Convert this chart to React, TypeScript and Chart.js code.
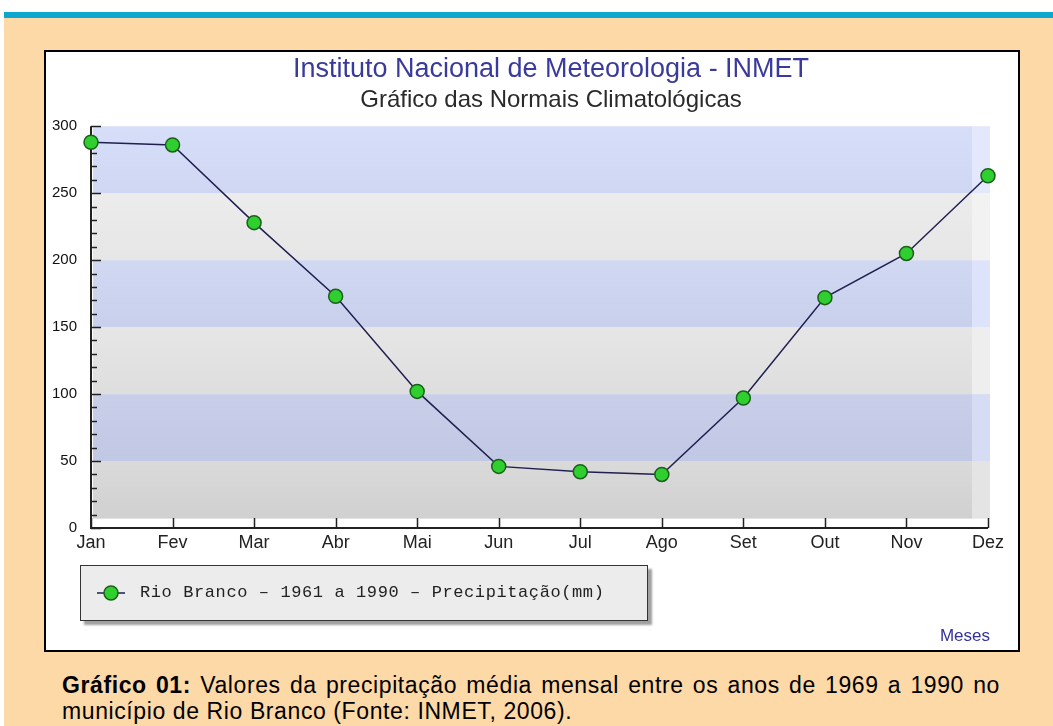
import React, { useEffect, useRef } from "react";
import { Chart, registerables } from "chart.js";

Chart.register(...registerables);

const MONTHS = ["Jan", "Fev", "Mar", "Abr", "Mai", "Jun", "Jul", "Ago", "Set", "Out", "Nov", "Dez"];
const PRECIP = [288, 286, 228, 173, 102, 46, 42, 40, 97, 172, 205, 263];
const Y_MIN = 0;
const Y_MAX = 300;
const Y_STEP = 50;
const Y_MINOR_STEP = 10;
const TITLE = "Instituto Nacional de Meteorologia - INMET";
const SUBTITLE = "Gráfico das Normais Climatológicas";
const SERIES_LABEL = "Rio Branco – 1961 a 1990 – Precipitação(mm)";
const X_AXIS_LABEL = "Meses";
const CAPTION_BOLD = "Gráfico 01:";
const CAPTION_TEXT =
  " Valores da precipitação média mensal entre os anos de 1969 a 1990 no município de Rio Branco (Fonte: INMET, 2006).";

const SANS = '"Liberation Sans", Arial, Helvetica, sans-serif';

const bandsPlugin = {
  id: "bands",
  beforeDatasetsDraw(chart: any) {
    const { ctx, chartArea, scales } = chart;
    const y = scales.y;
    const left = chartArea.left + 2;
    const right = chartArea.right + 2;
    const sideW = 18;
    const bandColors = [
      ["#dadada", "#d0d0d0"], // 0-50
      ["#c9cfe9", "#c1c8e4"], // 50-100
      ["#e6e6e6", "#dedede"], // 100-150
      ["#d1d8f2", "#c9d0ec"], // 150-200
      ["#ececec", "#e6e6e6"], // 200-250
      ["#d7def8", "#d0d7f3"], // 250-300
    ];
    const sideColors = ["#e4e4e4", "#d6dcf4", "#eeeeee", "#dde3fa", "#f2f2f2", "#e3e8fc"];
    ctx.save();
    let idx = 0;
    for (let v = Y_MIN; v < Y_MAX; v += Y_STEP) {
      const lo = v === Y_MIN ? v + 7 : v;
      const yb = y.getPixelForValue(lo);
      const yt = y.getPixelForValue(v + Y_STEP);
      const [c1, c2] = bandColors[idx % bandColors.length];
      const g = ctx.createLinearGradient(0, yt, 0, yb);
      g.addColorStop(0, c1);
      g.addColorStop(1, c2);
      ctx.fillStyle = g;
      ctx.fillRect(left, yt, right - sideW - left, yb - yt);
      ctx.fillStyle = sideColors[idx % sideColors.length];
      ctx.fillRect(right - sideW, yt, sideW, yb - yt);
      idx++;
    }
    // axes with inner ticks
    const x = scales.x;
    const ax = chartArea.left;
    const ay = chartArea.bottom;
    ctx.strokeStyle = "#222";
    ctx.lineWidth = 2;
    ctx.beginPath();
    ctx.moveTo(ax, y.getPixelForValue(Y_MAX));
    ctx.lineTo(ax, ay);
    ctx.lineTo(chartArea.right, ay);
    ctx.stroke();
    ctx.lineWidth = 1.5;
    ctx.beginPath();
    for (let v = Y_MIN; v <= Y_MAX; v += Y_MINOR_STEP) {
      const py = Math.round(y.getPixelForValue(v)) + 0.5;
      const len = v % Y_STEP === 0 ? 10 : 6;
      ctx.moveTo(ax, py);
      ctx.lineTo(ax + len, py);
    }
    for (let i = 0; i < MONTHS.length; i++) {
      const px = Math.round(x.getPixelForValue(i)) + 0.5;
      ctx.moveTo(px, ay);
      ctx.lineTo(px, ay - 10);
    }
    ctx.stroke();
    ctx.restore();
  },
};

function ChartPanel() {
  const ref = useRef<HTMLCanvasElement | null>(null);
  useEffect(() => {
    if (!ref.current) return;
    const chart = new Chart(ref.current, {
      type: "line",
      data: {
        labels: MONTHS,
        datasets: [
          {
            label: SERIES_LABEL,
            data: PRECIP,
            borderColor: "#1f1f50",
            borderWidth: 1.5,
            pointRadius: 7,
            pointHoverRadius: 7,
            pointBackgroundColor: "#30cf30",
            pointBorderColor: "#1a601a",
            pointBorderWidth: 1.5,
            tension: 0,
            clip: false as any,
          },
        ],
      },
      options: {
        animation: false,
        responsive: true,
        maintainAspectRatio: false,
        layout: { padding: { top: 1, right: 0, bottom: 0, left: 0 } },
        plugins: {
          legend: { display: false },
          tooltip: { enabled: false },
          title: {
            display: true,
            text: TITLE,
            color: "#3a3a9c",
            font: { family: SANS, size: 27, weight: "normal" as any },
            padding: { top: 0, bottom: 1 },
          },
          subtitle: {
            display: true,
            text: SUBTITLE,
            color: "#2a2a2a",
            font: { family: SANS, size: 24, weight: "normal" as any },
            padding: { top: 0, bottom: 11 },
          },
        },
        scales: {
          x: {
            type: "category",
            offset: false,
            grid: { display: false, drawTicks: false },
            border: { display: false },
            ticks: {
              color: "#222",
              font: { family: SANS, size: 18 },
              padding: 4,
              autoSkip: false,
              maxRotation: 0,
            },
            afterFit: (s: any) => {
              s.height = 122;
              s.paddingRight = 68;
            },
          },
          y: {
            min: Y_MIN,
            max: Y_MAX,
            grid: { display: false, drawTicks: false },
            border: { display: false },
            ticks: {
              stepSize: Y_STEP,
              color: "#111",
              font: { family: SANS, size: 15 },
              padding: 14,
            },
            afterFit: (s: any) => {
              s.width = 45;
            },
          },
        },
      },
      plugins: [bandsPlugin],
    });
    return () => chart.destroy();
  }, []);
  return (
    <div style={{ position: "absolute", left: 0, top: 0, width: 1010, height: 598 }}>
      <canvas ref={ref} />
    </div>
  );
}

export default function App() {
  return (
    <div
      style={{
        position: "absolute",
        left: 0,
        top: 0,
        width: 1053,
        height: 726,
        background: "#fff",
        overflow: "hidden",
        fontFamily: SANS,
      }}
    >
      <div style={{ position: "absolute", left: 4, top: 12, width: 1049, height: 6, background: "#0ba7cf" }} />
      <div style={{ position: "absolute", left: 4, top: 18, width: 1049, height: 708, background: "#fdd9a7" }} />
      <div
        style={{
          position: "absolute",
          left: 44,
          top: 50,
          width: 976,
          height: 602,
          boxSizing: "border-box",
          border: "2px solid #000",
          background: "#fff",
          overflow: "hidden",
        }}
      >
        <ChartPanel />
        <div
          style={{
            position: "absolute",
            left: 34,
            top: 513,
            width: 568,
            height: 56,
            boxSizing: "border-box",
            border: "1px solid #333",
            background: "#ececec",
            boxShadow: "4px 4px 2px #a0a0a0",
          }}
        >
          <svg width={50} height={54} style={{ position: "absolute", left: 0, top: 0 }}>
            <line x1={16} y1={27} x2={44} y2={27} stroke="#1f1f50" strokeWidth={1.5} />
            <circle cx={30} cy={27} r={7} fill="#30cf30" stroke="#1a601a" strokeWidth={1.5} />
          </svg>
          <div
            style={{
              position: "absolute",
              left: 59,
              top: 0,
              height: 54,
              lineHeight: "54px",
              fontFamily: '"Liberation Mono", "DejaVu Sans Mono", monospace',
              fontSize: 17,
              letterSpacing: 0.6,
              color: "#222",
              whiteSpace: "nowrap",
            }}
          >
            {SERIES_LABEL}
          </div>
        </div>
        <div
          style={{
            position: "absolute",
            right: 28,
            top: 574,
            fontSize: 17,
            color: "#333399",
            lineHeight: "20px",
          }}
        >
          {X_AXIS_LABEL}
        </div>
      </div>
      <div
        style={{
          position: "absolute",
          left: 62,
          top: 672,
          width: 938,
          fontSize: 23,
          letterSpacing: 0.6,
          lineHeight: "26px",
          color: "#000",
          textAlign: "justify",
          textAlignLast: "left" as any,
        }}
      >
        <b>{CAPTION_BOLD}</b>
        {CAPTION_TEXT}
      </div>
    </div>
  );
}
